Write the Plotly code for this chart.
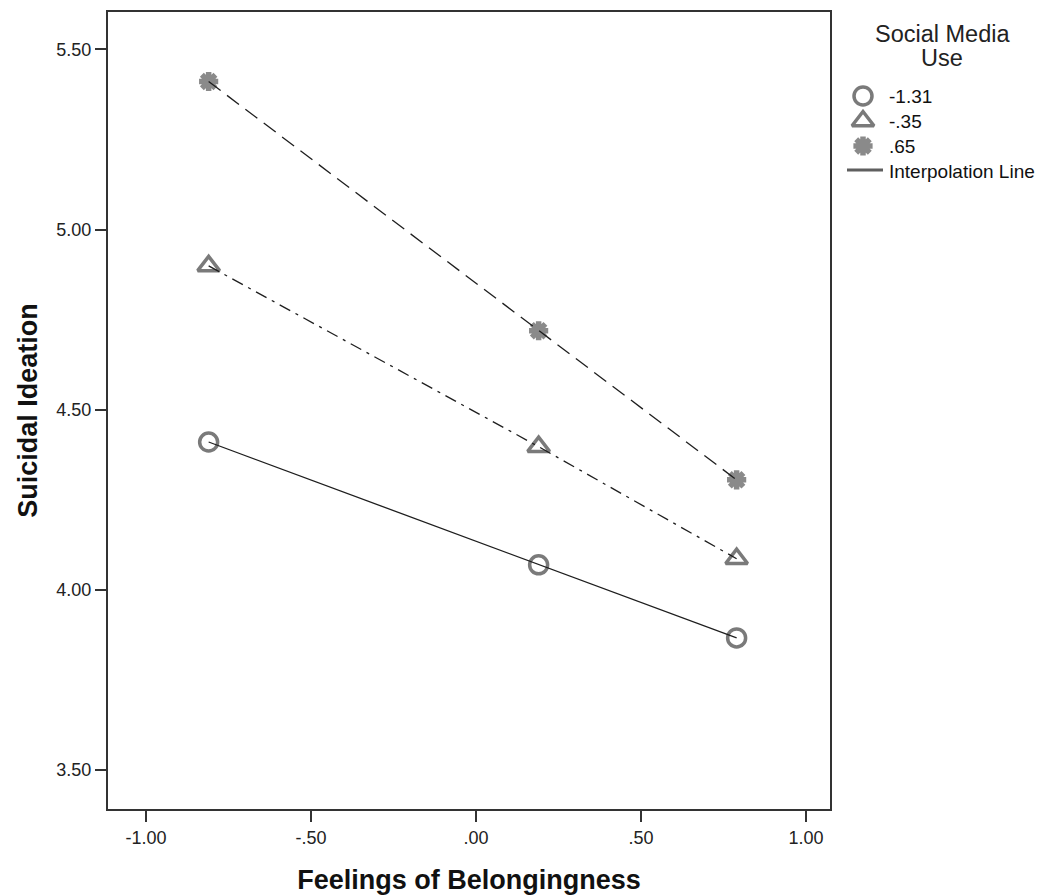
import plotly.graph_objects as go

# Data
belonging = [-0.81, 0.19, 0.79]
series_names = ["-1.31", "-.35", ".65"]
ideation_low = [4.410, 4.069, 3.866]
ideation_mid = [4.899, 4.397, 4.086]
ideation_high = [5.411, 4.719, 4.305]

x_ticks = [-1.0, -0.5, 0.0, 0.5, 1.0]
x_tick_labels = ["-1.00", "-.50", ".00", ".50", "1.00"]
y_ticks = [3.5, 4.0, 4.5, 5.0, 5.5]
y_tick_labels = ["3.50", "4.00", "4.50", "5.00", "5.50"]
legend_title = ["Social Media", "Use"]
interp_label = "Interpolation Line"

FONT = "Liberation Sans, Arial, sans-serif"
MARKER_GRAY = "#7a7a7a"
LINE_COL = "#1e1e1e"

W, H = 1040, 895
ML, MT, MB = 108, 12, 86
PLOT_RIGHT = 830          # pixel right edge of the data panel
LEG_LEFT = 840            # pixel left edge of the legend panel

markers = [
    dict(symbol="circle-open", size=18, line=dict(width=3.5, color=MARKER_GRAY), color=MARKER_GRAY),
    dict(symbol="triangle-up-open", size=19, line=dict(width=3.5, color=MARKER_GRAY), color=MARKER_GRAY),
    dict(symbol="asterisk-open", size=16, line=dict(width=5.5, color="#8a8a8a"), color="#8a8a8a"),
]
dashes = ["solid", "12px,6px,3px,6px", "15px,8px"]
series_values = [ideation_low, ideation_mid, ideation_high]

fig = go.Figure()

# data markers
for name, yv, mk in zip(series_names, series_values, markers):
    fig.add_trace(go.Scatter(x=belonging, y=yv, mode="markers", name=name, marker=mk,
                             showlegend=False, cliponaxis=False))

# interpolation lines drawn above markers
for name, yv, dash in zip(series_names, series_values, dashes):
    fig.add_trace(go.Scatter(x=belonging, y=yv, mode="lines", name=name, showlegend=False,
                             line=dict(color=LINE_COL, width=1.3, dash=dash), hoverinfo="skip"))

# ---- legend panel (pixel-coordinate helper axes) ----
key_x = 863
key_y = [96, 121, 146]
text_x = 887
line_y = 170
for name, mk, ky in zip(series_names, markers, key_y):
    fig.add_trace(go.Scatter(x=[key_x], y=[ky], mode="markers", marker=mk, xaxis="x2", yaxis="y2",
                             showlegend=False, hoverinfo="skip", cliponaxis=False))
    fig.add_annotation(x=text_x, y=ky + 0.5, xref="x2", yref="y2", text=name, showarrow=False,
                       xanchor="left", yanchor="middle", font=dict(size=19, family=FONT, color="#111"))
fig.add_trace(go.Scatter(x=[847, 883], y=[line_y, line_y], mode="lines", xaxis="x2", yaxis="y2",
                         line=dict(color="#5f5f5f", width=3), showlegend=False, hoverinfo="skip"))
fig.add_annotation(x=text_x, y=line_y + 1.5, xref="x2", yref="y2", text=interp_label, showarrow=False,
                   xanchor="left", yanchor="middle", font=dict(size=19, family=FONT, color="#111"))
for txt, ty in zip(legend_title, [34, 58]):
    fig.add_annotation(x=942, y=ty, xref="x2", yref="y2", text=txt, showarrow=False,
                       xanchor="center", yanchor="middle", font=dict(size=23.5, family=FONT, color="#222"))

plot_w = W - ML
fig.update_layout(
    width=W, height=H,
    paper_bgcolor="white", plot_bgcolor="white",
    margin=dict(l=ML, r=0, t=MT, b=MB),
    font=dict(family=FONT, color="#222222"),
    showlegend=False,
    xaxis=dict(
        domain=[0, (PLOT_RIGHT - ML) / plot_w],
        range=[-1.115, 1.073], tickvals=x_ticks, ticktext=x_tick_labels,
        showgrid=False, zeroline=False, showline=True, mirror=True, linecolor="#333", linewidth=2,
        ticks="outside", ticklen=11, tickwidth=2, tickcolor="#333",
        tickfont=dict(size=18, family=FONT, color="#222"),
        title=dict(text="<b>Feelings of Belongingness</b>", font=dict(size=27, family=FONT, color="#111"), standoff=24),
    ),
    yaxis=dict(
        range=[3.391, 5.604], tickvals=y_ticks, ticktext=y_tick_labels,
        showgrid=False, zeroline=False, showline=True, mirror=True, linecolor="#333", linewidth=2,
        ticks="outside", ticklen=11, tickwidth=2, tickcolor="#333",
        tickfont=dict(size=18, family=FONT, color="#222"),
        title=dict(text="<b>Suicidal Ideation</b>", font=dict(size=27, family=FONT, color="#111"), standoff=11),
    ),
    xaxis2=dict(domain=[(LEG_LEFT - ML) / plot_w, 1], range=[LEG_LEFT, W], visible=False,
                anchor="y2", fixedrange=True),
    yaxis2=dict(domain=[0, 1], range=[H - MB, MT], visible=False, anchor="x2", fixedrange=True),
)

fig.write_html("out.html", config={"displayModeBar": False},
               post_script="document.body.style.margin='0';document.body.style.overflow='hidden';")
